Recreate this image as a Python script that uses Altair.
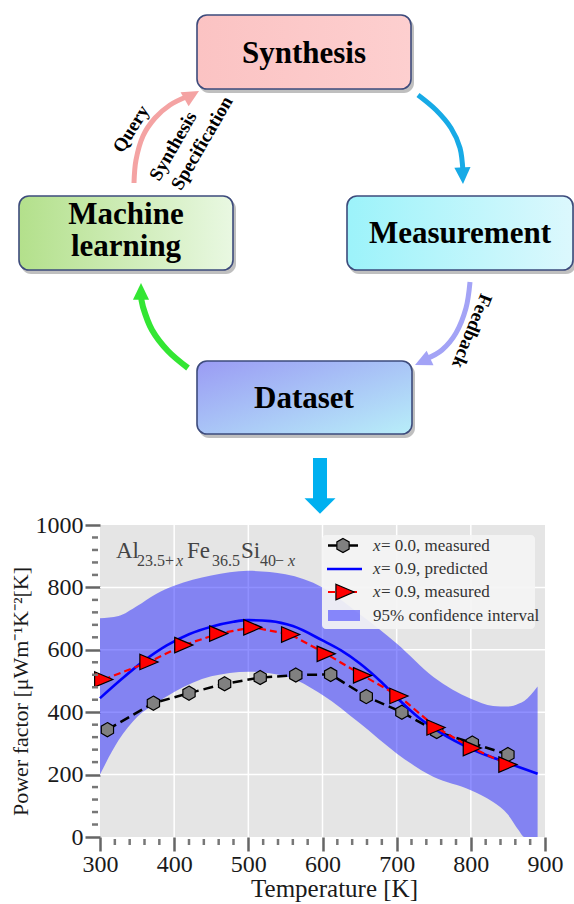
import altair as alt
import pandas as pd

# ---------------------------------------------------------------------------
# Power factor of Al(23.5+x)Fe(36.5)Si(40-x): measured and predicted values
# ---------------------------------------------------------------------------
T_X00 = [310, 372, 420, 468, 516, 564, 611, 659, 707, 754, 802, 850]
PF_X00 = [344, 429, 461, 491, 511, 519, 521, 450, 400, 338, 301, 264]

T_X09 = [305, 366, 413, 460, 506, 557, 605, 654, 703, 753, 802, 850]
PF_X09 = [505, 561, 615, 652, 672, 649, 587, 518, 452, 351, 285, 232]

T_PRED = [300, 330, 360, 390, 420, 450, 480, 500, 530, 560, 600, 625, 650,
          680, 700, 730, 760, 800, 850, 890]
PF_PRED = [445, 508, 566, 614, 650, 674, 690, 695, 692, 676, 630, 598, 557,
           495, 447, 382, 333, 283, 237, 203]

T_BAND = [300, 325, 350, 375, 400, 450, 500, 550, 600, 650, 700, 750, 800,
          830, 850, 865, 872, 890]
PF_LOW = [200, 310, 385, 428, 465, 515, 530, 515, 455, 365, 268, 192, 150,
          112, 72, 20, 0, 0]
PF_HIGH = [701, 708, 740, 778, 805, 838, 853, 842, 800, 715, 620, 512, 443,
           420, 418, 428, 436, 482]

X_MAJOR = [300, 400, 500, 600, 700, 800, 900]
X_MINOR = [t for t in range(320, 900, 20) if t % 100]
Y_MAJOR = [0, 200, 400, 600, 800, 1000]
Y_MINOR = [v for v in range(40, 1000, 40) if v % 200]
X_GRID = [400, 500, 600, 700, 800]
Y_GRID = [200, 400, 600, 800]

# ---------------------------------------------------------------------------
# Workflow diagram (page pixel layout)
# ---------------------------------------------------------------------------
BOX_NAME = ["Synthesis", "Machine learning", "Measurement", "Dataset"]
BOX_X0 = [197, 19, 347, 197]
BOX_X1 = [411, 233, 573, 412]
BOX_Y0 = [15, 196, 196, 361]
BOX_Y1 = [89, 270, 270, 434]

BOX_TEXT = ["Synthesis", "Machine\nlearning", "Measurement", "Dataset"]
BOX_TX = [304, 126, 460, 304]
BOX_TY = [63, 224, 243, 408]

ARROW_ID = ["query"] * 6 + ["measure"] * 5 + ["feedback"] * 5 + ["learn"] * 5
ARROW_X = [134, 136, 143, 155, 170, 186,
           418, 436, 451, 460, 463,
           470, 466, 456, 442, 426,
           188, 168, 152, 143, 141]
ARROW_Y = [183, 160, 136, 118, 105, 97,
           95, 110, 128, 148, 172,
           282, 308, 333, 350, 359,
           368, 351, 330, 307, 294]
ARROW_COLOR = {"query": "#f4a3a3", "measure": "#17aae6",
               "feedback": "#a3a3f6", "learn": "#33e633"}
ARROW_WIDTH = {"query": 5, "measure": 5, "feedback": 5, "learn": 6}

HEAD_ID = ["query", "measure", "feedback", "learn"]
HEAD_TX = [199, 463, 415, 141]
HEAD_TY = [91, 184, 365, 283]
HEAD_ANGLE = [60, 178, 245, 0]

ARROW_LABEL = ["Query", "Synthesis", "Specification", "Feedback"]
ARROW_LABEL_X = [131, 173, 202, 472]
ARROW_LABEL_Y = [129, 146, 143, 331]
ARROW_LABEL_ANGLE = [302, 300, 300, 112]

# block arrow from the diagram down to the plot
DOWN_SHAFT = {"x0": [313], "x1": [327], "y0": [458], "y1": [499]}
DOWN_HEAD = {"x": [320], "y": [506]}

# composition label inside the plot
FORMULA_TEXT = ["Al", "23.5+", "x", "Fe", "36.5", "Si", "40", "\u2212", "x"]
FORMULA_X = [116, 137, 176, 187, 212, 241, 260, 275, 288]
FORMULA_Y = [558, 566, 566, 558, 566, 558, 566, 566, 566]
FORMULA_SIZE = [23, 16, 16, 23, 16, 23, 16, 16, 16]
FORMULA_ITALIC = [False, False, True, False, False, False, False, False, True]

LEGEND_TEXT = ["= 0.0, measured", "= 0.9, predicted", "= 0.9, measured",
               "95% confidence interval"]
LEGEND_ITALIC_X = [True, True, True, False]
LEGEND_Y = [551, 574, 597, 621]
LEGEND_SYM_Y = [545.5, 569, 592, 615.5]

# ---------------------------------------------------------------------------
W, H = 445, 312
PAD_L, PAD_T = 100, 525
SERIF = "Liberation Serif"

xs = alt.Scale(domain=[300, 900], nice=False, zero=False)
ys = alt.Scale(domain=[0, 1000], nice=False, zero=True)

x_axis = alt.Axis(values=X_MAJOR, domain=False, grid=False, tickSize=14,
                  tickWidth=2.5, tickColor="#666666", labelFont=SERIF,
                  labelFontSize=24, labelColor="#1a1a1a", labelPadding=1,
                  labelFlush=False, labelOverlap=False, format="d",
                  title="Temperature [K]", titleFont=SERIF, titleFontSize=25,
                  titleFontWeight="normal", titleColor="#1a1a1a",
                  titlePadding=0, titleX=234, titleAlign="center")
y_axis = alt.Axis(values=Y_MAJOR, domain=False, grid=False, tickSize=15,
                  tickWidth=2.5, tickColor="#666666", labelFont=SERIF,
                  labelFontSize=24, labelColor="#1a1a1a", labelPadding=2,
                  labelFlush=False, labelOverlap=False, format="d",
                  title="Power factor [\u03bcWm\u207b\u00b9K\u207b\u00b2[K]",
                  titleFont=SERIF, titleFontSize=22, titleFontWeight="normal",
                  titleColor="#1a1a1a", titlePadding=3, titleY=166,
                  titleAlign="center")


def X(field):
    return alt.X(field, type="quantitative", scale=xs, axis=x_axis)


def Y(field):
    return alt.Y(field, type="quantitative", scale=ys, axis=y_axis)


df_x00 = pd.DataFrame({"T": T_X00, "PF": PF_X00})
df_x09 = pd.DataFrame({"T": T_X09, "PF": PF_X09})
df_pred = pd.DataFrame({"T": T_PRED, "PF": PF_PRED})
df_band = pd.DataFrame({"T": T_BAND, "low": PF_LOW, "high": PF_HIGH})

HEX = "M0,-1L0.866,-0.5L0.866,0.5L0,1L-0.866,0.5L-0.866,-0.5Z"
TRI_RIGHT = "M-1,-0.85L1,0L-1,0.85Z"

grid_x = alt.Chart(pd.DataFrame({"T": X_GRID})).mark_rule(
    color="white", strokeWidth=1.5).encode(
    x=X("T"), y=alt.value(0), y2=alt.value(H))
grid_y = alt.Chart(pd.DataFrame({"PF": Y_GRID})).mark_rule(
    color="white", strokeWidth=1.5).encode(
    y=Y("PF"), x=alt.value(0), x2=alt.value(W))

minor_x = alt.Chart(pd.DataFrame({"T": X_MINOR})).mark_rule(
    color="#777777", strokeWidth=2.5).encode(
    x=X("T"), y=alt.value(H + 2), y2=alt.value(H + 8))
minor_y = alt.Chart(pd.DataFrame({"PF": Y_MINOR})).mark_rule(
    color="#777777", strokeWidth=2.5).encode(
    y=Y("PF"), x=alt.value(-8), x2=alt.value(-2))

band = alt.Chart(df_band).mark_area(
    color="#2222ff", opacity=0.5, interpolate="monotone").encode(
    x=X("T"), y=Y("low"), y2="high")

line_x00 = alt.Chart(df_x00).mark_line(
    color="black", strokeWidth=2.5, strokeDash=[10, 5]).encode(
    x=X("T"), y=Y("PF"))
pts_x00 = alt.Chart(df_x00).mark_point(
    shape=HEX, size=200, filled=True, fill="#808080", stroke="black",
    strokeWidth=1.2, opacity=1).encode(x=X("T"), y=Y("PF"))

line_pred = alt.Chart(df_pred).mark_line(
    color="#0000ff", strokeWidth=2.6, interpolate="monotone").encode(
    x=X("T"), y=Y("PF"))

line_x09 = alt.Chart(df_x09).mark_line(
    color="#ff0000", strokeWidth=2.2, strokeDash=[7, 4]).encode(
    x=X("T"), y=Y("PF"))
pts_x09 = alt.Chart(df_x09).mark_point(
    shape=TRI_RIGHT, size=330, filled=True, fill="#ff0000", stroke="black",
    strokeWidth=1.2, opacity=1).encode(x=X("T"), y=Y("PF"))

plot = alt.layer(grid_x, grid_y, band, line_x00, pts_x00, line_pred,
                 line_x09, pts_x09, minor_x, minor_y)

# ---------------------------------------------------------------------------
# Page-pixel layer: workflow diagram, legend and composition label
# ---------------------------------------------------------------------------
PX = alt.Scale(domain=[0, 574], range=[-PAD_L, 574 - PAD_L], nice=False, zero=False)
PY = alt.Scale(domain=[0, 904], range=[-PAD_T, 904 - PAD_T], nice=False, zero=False)


def px(field):
    return alt.X(field, type="quantitative", scale=PX, axis=None)


def py(field):
    return alt.Y(field, type="quantitative", scale=PY, axis=None)


boxes = pd.DataFrame({"name": BOX_NAME, "x0": BOX_X0, "x1": BOX_X1,
                      "y0": BOX_Y0, "y1": BOX_Y1})

shadow = alt.Chart(boxes).transform_calculate(
    sx0="datum.x0 + 2", sx1="datum.x1 + 3",
    sy0="datum.y0 + 3", sy1="datum.y1 + 4").mark_rect(
    cornerRadius=10, fill="#8a8a8a", opacity=0.55).encode(
    x=px("sx0"), x2="sx1", y=py("sy0"), y2="sy1")


def grad(c0, c1, diag=False):
    return alt.LinearGradient(
        gradient="linear",
        stops=[alt.GradientStop(color=c0, offset=0),
               alt.GradientStop(color=c1, offset=1)],
        x1=0, y1=0, x2=1, y2=1 if diag else 0)


BOX_FILL = {
    "Synthesis": grad("#fbc3c3", "#fdcfcf"),
    "Machine learning": grad("#b3e08b", "#e9f8e2"),
    "Measurement": grad("#9cf3fa", "#dcf8fd"),
    "Dataset": grad("#9a9bf4", "#b8eef9", diag=True),
}

box_layers = []
for name in BOX_NAME:
    box_layers.append(
        alt.Chart(boxes).transform_filter(alt.datum.name == name).mark_rect(
            cornerRadius=10, fill=BOX_FILL[name], stroke="#3d4b7c",
            strokeWidth=1.6).encode(x=px("x0"), x2="x1", y=py("y0"), y2="y1"))

box_text = alt.Chart(pd.DataFrame({"t": BOX_TEXT, "x": BOX_TX, "y": BOX_TY})).mark_text(
    font=SERIF, fontWeight="bold", fontSize=31, color="black",
    align="center", baseline="alphabetic", lineBreak="\n",
    lineHeight=32).encode(x=px("x"), y=py("y"), text="t:N")

arrows = pd.DataFrame({"id": ARROW_ID, "x": ARROW_X, "y": ARROW_Y})
arrows["i"] = arrows.groupby("id").cumcount()
arrows["col"] = arrows["id"].map(ARROW_COLOR)
arrows["w"] = arrows["id"].map(ARROW_WIDTH)

arrow_lines = alt.Chart(arrows).mark_line(interpolate="cardinal", strokeCap="butt").encode(
    x=px("x"), y=py("y"), detail="id:N", order="i:Q",
    color=alt.Color("col:N", scale=None),
    strokeWidth=alt.StrokeWidth("w:Q", scale=None))

heads = pd.DataFrame({"id": HEAD_ID, "tx": HEAD_TX, "ty": HEAD_TY, "ang": HEAD_ANGLE})
heads["col"] = heads["id"].map(ARROW_COLOR)
HEAD_R = 9.5
arrow_heads = alt.Chart(heads).transform_calculate(
    cx=f"datum.tx - {HEAD_R} * sin(datum.ang * PI / 180)",
    cy=f"datum.ty + {HEAD_R} * cos(datum.ang * PI / 180)").mark_point(
    shape="M0,-1L0.85,0.75L-0.85,0.75Z", size=(2 * HEAD_R) ** 2,
    filled=True, opacity=1).encode(
    x=px("cx"), y=py("cy"),
    angle=alt.Angle("ang:Q", scale=None),
    color=alt.Color("col:N", scale=None))

arrow_text = alt.Chart(pd.DataFrame({
    "t": ARROW_LABEL, "x": ARROW_LABEL_X, "y": ARROW_LABEL_Y,
    "a": ARROW_LABEL_ANGLE})).mark_text(
    font=SERIF, fontWeight="bold", fontSize=19, color="black",
    align="center", baseline="middle").encode(
    x=px("x"), y=py("y"), text="t:N", angle=alt.Angle("a:Q", scale=None))

down_shaft = alt.Chart(pd.DataFrame(DOWN_SHAFT)).mark_rect(color="#00b0f0").encode(
    x=px("x0"), x2="x1", y=py("y0"), y2="y1")
down_head = alt.Chart(pd.DataFrame(DOWN_HEAD)).mark_point(
    shape="M-1,-0.5L1,-0.5L0,0.5Z", size=961, filled=True, opacity=1,
    color="#00b0f0").encode(x=px("x"), y=py("y"))

# composition label
formula = pd.DataFrame({"t": FORMULA_TEXT, "x": FORMULA_X, "y": FORMULA_Y,
                        "s": FORMULA_SIZE, "it": FORMULA_ITALIC})
formula_up = alt.Chart(formula).transform_filter("!datum.it").mark_text(
    font=SERIF, color="#444444", align="left", baseline="alphabetic").encode(
    x=px("x"), y=py("y"), text="t:N", size=alt.Size("s:Q", scale=None))
formula_it = alt.Chart(formula).transform_filter("datum.it").mark_text(
    font=SERIF, fontStyle="italic", color="#444444", align="left",
    baseline="alphabetic").encode(
    x=px("x"), y=py("y"), text="t:N", size=alt.Size("s:Q", scale=None))

# legend
legend_bg = alt.Chart(pd.DataFrame({"x0": [322], "x1": [535], "y0": [535], "y1": [629]})).mark_rect(
    cornerRadius=4, fill="#f4f4f4", opacity=0.92).encode(
    x=px("x0"), x2="x1", y=py("y0"), y2="y1")

leg = pd.DataFrame({"t": LEGEND_TEXT, "it": LEGEND_ITALIC_X, "y": LEGEND_Y,
                    "sy": LEGEND_SYM_Y, "k": [0, 1, 2, 3]})
leg["xi"] = 373
leg["xt"] = [381, 381, 381, 373]
leg["x0"] = [328, 327, 328, 328]
leg["x1"] = [358, 362, 358, 360]
leg["mx"] = [343, 343, 345, 343]
leg["py0"] = leg["sy"] - 5.5
leg["py1"] = leg["sy"] + 5.5

legend_x = alt.Chart(leg).transform_filter("datum.it").mark_text(
    font=SERIF, fontStyle="italic", fontSize=17, color="#333333",
    align="left", baseline="alphabetic").encode(
    x=px("xi"), y=py("y"), text=alt.value("x"))
legend_t = alt.Chart(leg).mark_text(
    font=SERIF, fontSize=17, color="#333333", align="left",
    baseline="alphabetic").encode(x=px("xt"), y=py("y"), text="t:N")

leg_line0 = alt.Chart(leg).transform_filter("datum.k == 0").mark_rule(
    color="black", strokeWidth=2.5).encode(x=px("x0"), x2="x1", y=py("sy"))
leg_pt0 = alt.Chart(leg).transform_filter("datum.k == 0").mark_point(
    shape=HEX, size=200, filled=True, fill="#808080", stroke="black",
    strokeWidth=1.2, opacity=1).encode(x=px("mx"), y=py("sy"))
leg_line1 = alt.Chart(leg).transform_filter("datum.k == 1").mark_rule(
    color="#0000ff", strokeWidth=2.6).encode(x=px("x0"), x2="x1", y=py("sy"))
leg_line2 = alt.Chart(leg).transform_filter("datum.k == 2").mark_rule(
    color="#ff0000", strokeWidth=2.2, strokeDash=[7, 4]).encode(
    x=px("x0"), x2="x1", y=py("sy"))
leg_pt2 = alt.Chart(leg).transform_filter("datum.k == 2").mark_point(
    shape=TRI_RIGHT, size=330, filled=True, fill="#ff0000", stroke="black",
    strokeWidth=1.2, opacity=1).encode(x=px("mx"), y=py("sy"))
leg_patch = alt.Chart(leg).transform_filter("datum.k == 3").mark_rect(
    color="#2222ff", opacity=0.5).encode(
    x=px("x0"), x2="x1", y=py("py0"), y2="py1")

overlay = alt.layer(shadow, *box_layers, box_text, arrow_lines, arrow_heads,
                    arrow_text, down_shaft, down_head, formula_up, formula_it,
                    legend_bg, leg_patch, leg_line0, leg_pt0, leg_line1,
                    leg_line2, leg_pt2, legend_x, legend_t)

chart = alt.layer(plot, overlay).resolve_scale(
    x="independent", y="independent").properties(
    width=W, height=H,
    padding={"left": PAD_L, "top": PAD_T, "right": 574 - PAD_L - W,
             "bottom": 904 - PAD_T - H},
    autosize=alt.AutoSizeParams(type="none"),
    background="white").configure_view(stroke=None, fill="#e5e5e5")

chart.save("out.html", embed_options={"renderer": "svg", "actions": False})
